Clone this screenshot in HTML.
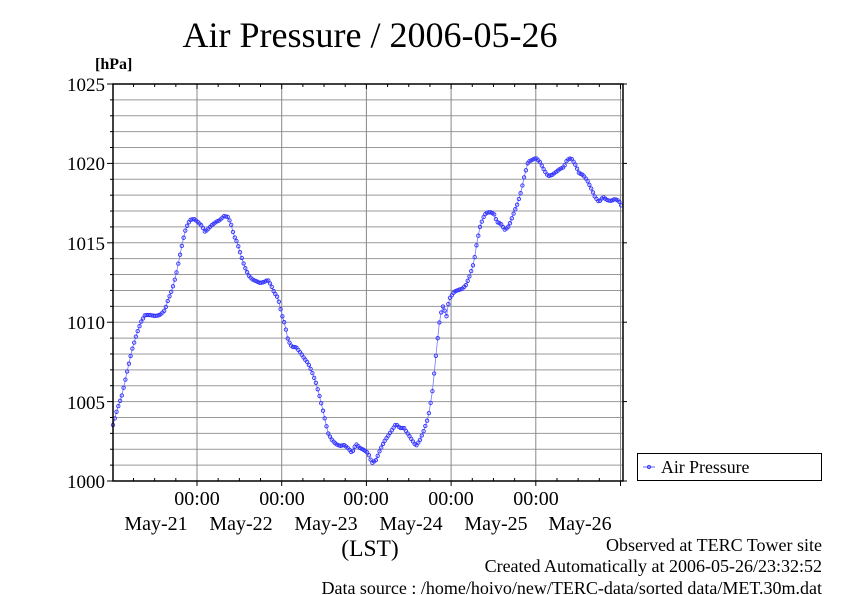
<!DOCTYPE html>
<html><head><meta charset="utf-8"><style>
html,body{margin:0;padding:0;background:#fff;}
svg{display:block;}
</style></head><body>
<svg id="s" width="842" height="595" viewBox="0 0 842 595" xmlns="http://www.w3.org/2000/svg" font-family="Liberation Serif, serif">
<rect width="842" height="595" fill="#fff"/>
<text x="370" y="47" font-size="36" text-anchor="middle">Air Pressure / 2006-05-26</text>
<text x="95" y="69" font-size="16" font-weight="bold">[hPa]</text>
<g id="grid"></g>
<g font-size="19" text-anchor="end">
<text x="105" y="91">1025</text>
<text x="105" y="170">1020</text>
<text x="105" y="250">1015</text>
<text x="105" y="329">1010</text>
<text x="105" y="409">1005</text>
<text x="105" y="488">1000</text>
</g>
<g font-size="20" text-anchor="middle">
<text x="197" y="505">00:00</text><text x="282" y="505">00:00</text><text x="366" y="505">00:00</text><text x="451" y="505">00:00</text><text x="536" y="505">00:00</text>
<text x="156" y="530">May-21</text><text x="241" y="530">May-22</text><text x="326" y="530">May-23</text><text x="411" y="530">May-24</text><text x="496" y="530">May-25</text><text x="580" y="530">May-26</text>
</g>
<text x="370" y="556" font-size="23.5" text-anchor="middle">(LST)</text>
<rect x="637.5" y="453.5" width="184" height="27" fill="#fff" stroke="#000" stroke-width="1"/>
<line x1="643" y1="467" x2="655" y2="467" stroke="#66f" stroke-width="1"/>
<circle cx="649" cy="467" r="1.5" fill="none" stroke="#33f"/>
<text x="661" y="473" font-size="17.8">Air Pressure</text>
<g font-size="18" text-anchor="end">
<text x="822" y="551">Observed at TERC Tower site</text>
<text x="822" y="572">Created Automatically at 2006-05-26/23:32:52</text>
<text x="822" y="594">Data source : /home/hoivo/new/TERC-data/sorted  data/MET.30m.dat</text>
</g>
<g id="data"></g>
<rect x="113" y="84" width="510" height="397" fill="none" stroke="#000" stroke-width="1.5"/>
</svg>
<script>
var NS="http://www.w3.org/2000/svg";
function el(t,a,p){var e=document.createElementNS(NS,t);for(var k in a)e.setAttribute(k,a[k]);p.appendChild(e);return e;}
var g=document.getElementById("grid");
var L=113,R=623,T=84,B=481,ph=(B-T)/25;
for(var i=1;i<25;i++){var y=T+i*ph;el("line",{x1:L,x2:R,y1:y,y2:y,stroke:"#999","stroke-width":1},g);}
for(var i=0;i<=25;i+=5){var y=T+i*ph;el("line",{x1:L-6,x2:L,y1:y,y2:y,stroke:"#000","stroke-width":1},g);el("line",{x1:R,x2:R+4,y1:y,y2:y,stroke:"#000","stroke-width":1},g);}
for(var i=1;i<25;i++){if(i%5==0)continue;var y=T+i*ph;el("line",{x1:L,x2:L-3,y1:y,y2:y,stroke:"#000"},g);}
var day=84.7,x0=197-day;
for(var h=0;h<=6*4+1;h++){var x=x0+h*day/4;if(x<L+1||x>R-1)continue;var maj=h%4==0;
 if(maj)el("line",{x1:x,x2:x,y1:T,y2:B,stroke:"#888","stroke-width":1},g);
 el("line",{x1:x,x2:x,y1:T,y2:T+(maj?5:3),stroke:"#000"},g);
 el("line",{x1:x,x2:x,y1:B,y2:B+(maj?5:-3),stroke:"#000"},g);}
var k=[[113,425],[117,410],[122,395],[127,372],[132,350],[137,333],[141,322],[145,315],[150,315],[155,316],[160,315],[165,310],[168,300],[172,290],[176,275],[180,255],[183,240],[186,228],[190,220],[194,219],[198,222],[202,226],[205,232],[208,229],[212,225],[216,222],[220,220],[224,216],[228,217],[231,224],[234,236],[237,242],[240,252],[243,262],[246,270],[249,276],[253,280],[256,281],[260,283],[264,282],[268,280],[271,285],[274,292],[278,298],[282,315],[285,325],[288,340],[292,347],[296,347],[300,352],[304,358],[308,363],[312,372],[316,383],[320,398],[324,415],[328,433],[332,440],[336,444],[340,446],[344,445],[348,448],[352,453],[356,444],[360,448],[364,450],[368,453],[372,463],[376,460],[380,450],[384,442],[388,436],[392,430],[396,424],[400,428],[404,428],[408,434],[412,440],[416,446],[420,440],[424,430],[428,418],[432,395],[436,355],[439,325],[442,308],[444,305],[446,320],[448,305],[450,298],[454,292],[458,290],[462,289],[466,285],[470,275],[474,262],[477,242],[480,227],[483,218],[486,213],[490,212],[494,214],[497,222],[501,224],[505,230],[509,226],[513,215],[517,205],[521,192],[524,178],[528,162],[532,160],[536,158],[540,162],[544,170],[548,176],[552,175],[556,172],[560,169],[564,167],[567,160],[571,158],[575,164],[579,173],[583,175],[587,180],[591,188],[595,197],[599,202],[603,197],[607,200],[611,201],[615,199],[619,201],[622,207]];
var d=document.getElementById("data");
var pts=[],step=day/48;
for(var x=113;x<=622.5;x+=step){var j=0;while(j<k.length-2&&k[j+1][0]<x)j++;var a=k[j],b=k[j+1];var t=(x-a[0])/(b[0]-a[0]);t=Math.max(0,Math.min(1,t));pts.push([x,a[1]+(b[1]-a[1])*t]);}
el("polyline",{points:pts.map(function(p){return p[0].toFixed(1)+","+p[1].toFixed(1)}).join(" "),fill:"none",stroke:"#77f","stroke-width":0.8},d);
pts.forEach(function(p){el("circle",{cx:p[0].toFixed(1),cy:p[1].toFixed(1),r:1.7,fill:"none",stroke:"#33f","stroke-width":0.9},d);});
</script>
</body></html>
